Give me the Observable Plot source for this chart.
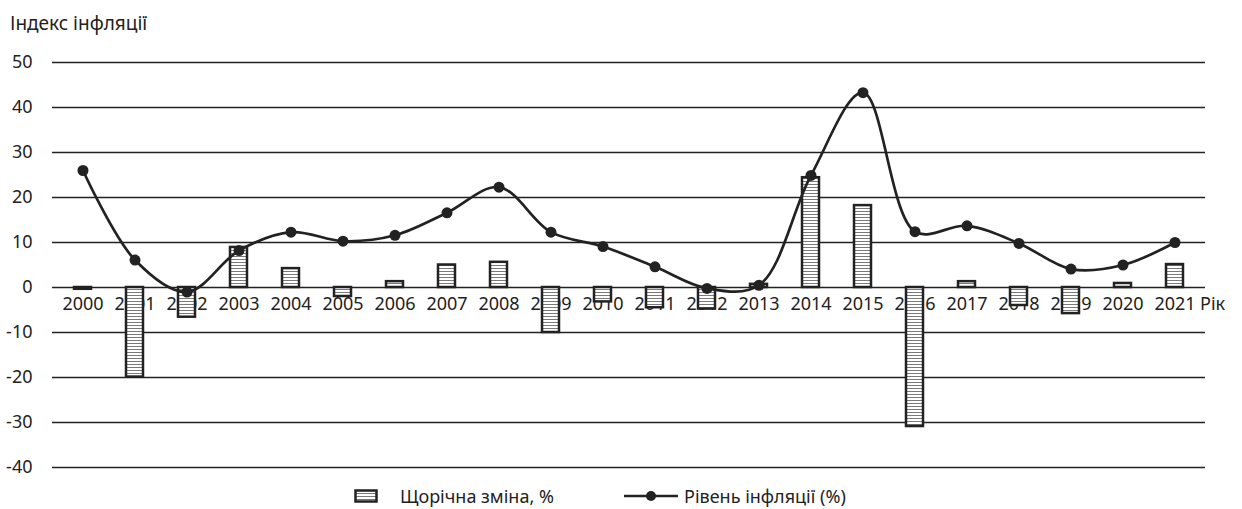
<!DOCTYPE html>
<html>
<head>
<meta charset="utf-8">
<script src="https://cdn.jsdelivr.net/npm/d3@7"></script>
<script src="https://cdn.jsdelivr.net/npm/@observablehq/plot@0.6"></script>
<style>
  html, body { margin: 0; padding: 0; background: #fff; }
  body { width: 1242px; height: 509px; position: relative; font-family: "Noto Sans", sans-serif; color: #222; overflow: hidden; }
  #title { height: 45px; box-sizing: border-box; padding: 11px 0 0 10px; font-size: 19px; line-height: 24px; }
  #chart svg { display: block; }
  .leg { position: absolute; top: 484px; height: 24px; font-size: 18px; line-height: 24px; display: flex; align-items: center; }
</style>
</head>
<body>
<div id="title">Індекс інфляції</div>
<div id="chart"></div>
<div class="leg" style="left:354px">
  <svg width="24" height="14" style="margin-right:22px">
    <defs>
      <pattern id="legstripes" patternUnits="userSpaceOnUse" x="0" y="0" width="100" height="3">
        <rect width="100" height="3" fill="#fff"></rect>
        <rect x="0" y="1" width="100" height="1" fill="#7a7a7a"></rect>
      </pattern>
    </defs>
    <rect x="1.5" y="1.5" width="21" height="11" fill="url(#legstripes)" stroke="#222" stroke-width="2.5"></rect>
  </svg>
  <span>Щорічна зміна, %</span>
</div>
<div class="leg" style="left:624px">
  <svg width="56" height="14" style="margin-right:4px">
    <line x1="0" x2="54" y1="7" y2="7" stroke="#222" stroke-width="2.5"></line>
    <circle cx="27" cy="7" r="5" fill="#222"></circle>
  </svg>
  <span>Рівень інфляції (%)</span>
</div>
<script>
const years = ["2000","2001","2002","2003","2004","2005","2006","2007","2008","2009","2010","2011","2012","2013","2014","2015","2016","2017","2018","2019","2020","2021"];
const inflation = [26.0, 6.1, -1.0, 8.2, 12.3, 10.3, 11.6, 16.6, 22.3, 12.3, 9.1, 4.6, -0.2, 0.5, 24.9, 43.3, 12.4, 13.7, 9.8, 4.1, 5.0, 10.0];
const change = [-0.4, -19.9, -6.6, 8.9, 4.2, -2.0, 1.3, 5.0, 5.6, -10.0, -3.2, -4.5, -4.8, 0.7, 24.4, 18.2, -30.9, 1.3, -4.0, -5.8, 0.9, 5.1];
const yTicks = [-40, -30, -20, -10, 0, 10, 20, 30, 40, 50];
const xAxisLabel = "Рік";

const data = years.map((y, i) => ({year: y, inflation: inflation[i], change: change[i]}));

const plot = Plot.plot({
  width: 1242,
  height: 440,
  marginTop: 17,
  marginBottom: 18,
  marginLeft: 52,
  marginRight: 37,
  style: {fontFamily: "Noto Sans, sans-serif", fontSize: "18px", color: "#222", background: "#fff"},
  x: {type: "band", domain: years, paddingInner: 0.68, paddingOuter: 0.34, axis: null},
  y: {domain: [-40, 50], axis: null},
  marks: [
    Plot.ruleY(yTicks, {stroke: "#222", strokeWidth: 1.6}),
    Plot.axisY({ticks: yTicks, tickSize: 0, tickPadding: 20, fontSize: 18, tickFormat: d => String(d)}),
    Plot.text(data, {x: "year", y: 0, text: "year", dy: 17, fontSize: 18, fill: "#222"}),
    Plot.text([xAxisLabel], {x: () => years[years.length - 1], y: 0, text: d => d, dx: 25, dy: 17, textAnchor: "start", fontSize: 18, fill: "#222"}),
    Plot.barY(data, {x: "year", y: "change", fill: "url(#stripes)", stroke: "#222", strokeWidth: 2.5}),
    Plot.line(data, {x: "year", y: "inflation", stroke: "#222", strokeWidth: 2.7, curve: "catmull-rom"}),
    Plot.dot(data, {x: "year", y: "inflation", r: 5.5, fill: "#222", stroke: "none"})
  ]
});

const defs = d3.select(plot).insert("defs", ":first-child");
const pat = defs.append("pattern").attr("id", "stripes").attr("patternUnits", "userSpaceOnUse")
  .attr("x", 0).attr("y", 0).attr("width", 1242).attr("height", 3);
pat.append("rect").attr("width", 1242).attr("height", 3).attr("fill", "#fff");
pat.append("rect").attr("x", 0).attr("y", 1).attr("width", 1242).attr("height", 1).attr("fill", "#7a7a7a");

document.getElementById("chart").append(plot);
</script>
</body>
</html>
